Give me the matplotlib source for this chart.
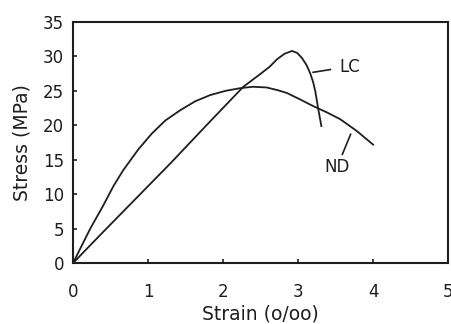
import matplotlib
matplotlib.use("Agg")
import matplotlib.pyplot as plt

plt.rcParams['font.family'] = ['DejaVu Sans']

# ND curve
nd_strain = [0, 0.23, 0.40, 0.54, 0.67, 0.87, 1.05, 1.23, 1.43, 1.63, 1.83, 2.03, 2.23, 2.40,
             2.58, 2.73, 2.85, 3.02, 3.20, 3.38, 3.56, 3.78, 4.0]
nd_stress = [0, 5.0, 8.3, 11.2, 13.5, 16.5, 18.8, 20.7, 22.2, 23.5, 24.4, 25.0, 25.4, 25.6,
             25.5, 25.1, 24.7, 23.8, 22.8, 21.9, 20.9, 19.2, 17.2]

# LC curve
lc_strain = [0, 0.40, 0.85, 1.30, 1.83, 2.27, 2.49, 2.62, 2.72, 2.82, 2.92, 2.99, 3.05, 3.11,
             3.16, 3.20, 3.23, 3.27, 3.31]
lc_stress = [0, 4.5, 9.5, 14.5, 20.6, 25.6, 27.4, 28.5, 29.6, 30.4, 30.8, 30.5, 29.8, 28.8,
             27.6, 26.3, 24.9, 22.3, 19.9]

xticks = [0, 1, 2, 3, 4, 5]
yticks = [0, 5, 10, 15, 20, 25, 30, 35]

fig = plt.figure(figsize=(4.52, 3.24), dpi=100)
ax = fig.add_axes([0.1615, 0.188, 0.83, 0.744])

c = '#1e1e1e'
ax.plot(nd_strain, nd_stress, color=c, lw=1.3, solid_joinstyle='round')
ax.plot(lc_strain, lc_stress, color=c, lw=1.3, solid_joinstyle='round')

# labels with leader lines
ax.plot([3.20, 3.43], [27.7, 28.1], color=c, lw=1.2)
ax.text(3.55, 28.4, 'LC', fontsize=12, va='center', ha='left', color=c)
ax.plot([3.59, 3.70], [15.8, 18.7], color=c, lw=1.2)
ax.text(3.52, 13.9, 'ND', fontsize=12, va='center', ha='center', color=c)

ax.set_xlim(0, 5)
ax.set_ylim(0, 35)
ax.set_xticks(xticks)
ax.set_yticks(yticks)
ax.tick_params(direction='in', length=3, width=1.2, labelsize=12, colors=c)
ax.tick_params(axis='x', pad=14)
ax.tick_params(axis='y', pad=6.5)
for s in ax.spines.values():
    s.set_linewidth(1.5)
    s.set_color(c)

ax.set_xlabel('Strain (o/oo)', fontsize=13.5, color=c)
ax.set_ylabel('Stress (MPa)', fontsize=13.5, color=c)
ax.xaxis.set_label_coords(0.5, -0.172)
ax.yaxis.set_label_coords(-0.11, 0.5)

fig.savefig('out.png', dpi=100)
